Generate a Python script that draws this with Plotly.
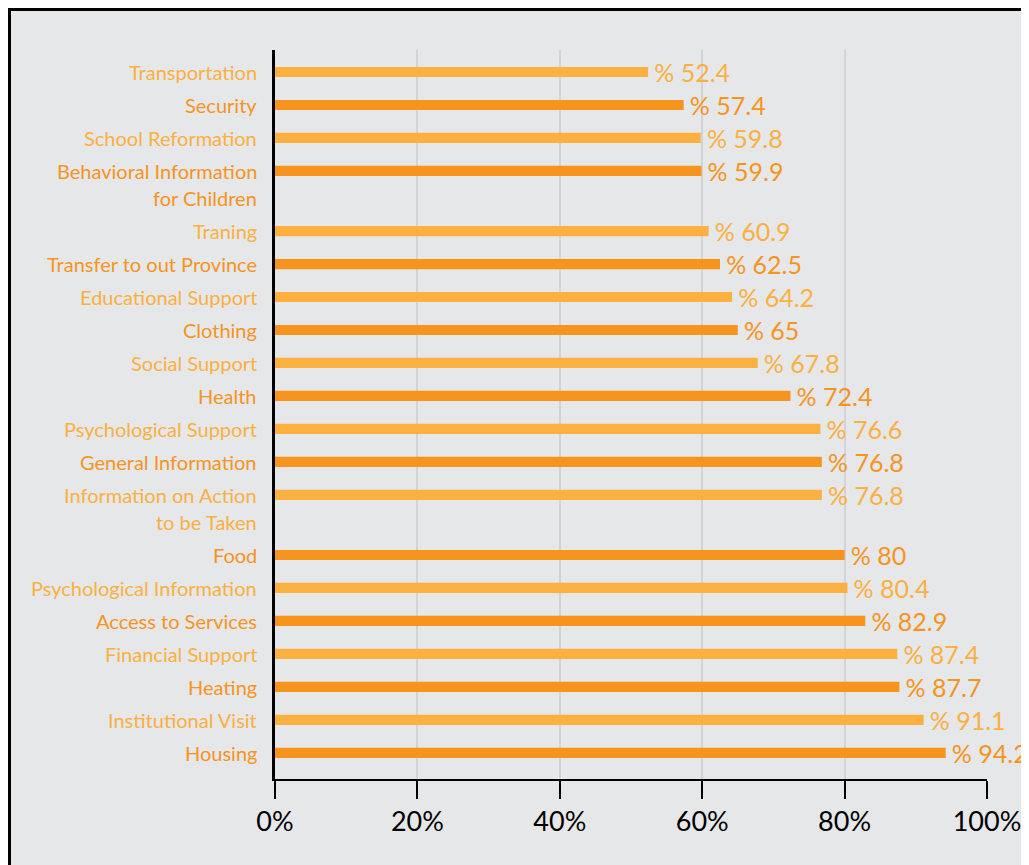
import plotly.graph_objects as go

categories = [
    "Transportation", "Security", "School Reformation",
    "Behavioral Information\nfor Children", "Traning", "Transfer to out Province",
    "Educational Support", "Clothing", "Social Support", "Health",
    "Psychological Support", "General Information",
    "Information on Action\nto be Taken", "Food", "Psychological Information",
    "Access to Services", "Financial Support", "Heating", "Institutional Visit",
    "Housing",
]
values = [52.4, 57.4, 59.8, 59.9, 60.9, 62.5, 64.2, 65, 67.8, 72.4,
          76.6, 76.8, 76.8, 80, 80.4, 82.9, 87.4, 87.7, 91.1, 94.2]
tick_vals = [0, 20, 40, 60, 80, 100]
tick_text = ["0%", "20%", "40%", "60%", "80%", "100%"]

LIGHT = "#FBB040"
DARK = "#F7941D"
colors = [LIGHT if i % 2 == 0 else DARK for i in range(len(categories))]

# slot positions: two-line labels take extra vertical room
positions = []
p = 0.0
for i, c in enumerate(categories):
    if i > 0:
        prev_lines = categories[i - 1].count("\n") + 1
        p += 1.0 if prev_lines == 1 else 1.82
    positions.append(p)

FONT = "Lato"

fig = go.Figure()
fig.add_trace(go.Bar(
    x=values, y=positions, orientation="h",
    marker=dict(color=colors, line=dict(width=0)),
    width=0.31,
    text=["\u2009% " + (str(v) if v % 1 else str(int(v))) for v in values],
    textposition="outside",
    textfont=dict(family=FONT, size=25, color=colors),
    constraintext="none",
    cliponaxis=False,
    hoverinfo="skip",
))

annotations = []
for pos, c, col in zip(positions, categories, colors):
    for j, line in enumerate(c.split("\n")):
        annotations.append(dict(
            x=0, xref="paper", y=pos, yref="y", text=line,
            xanchor="right", yanchor="middle", xshift=-16, yshift=-27 * j,
            showarrow=False, font=dict(family=FONT, size=20, color=col),
        ))

L, T = 267, 42
fig.update_layout(
    width=1029, height=865,
    margin=dict(l=L, r=50, t=T, b=94),
    paper_bgcolor="#E6E7E8",
    plot_bgcolor="rgba(0,0,0,0)",
    showlegend=False,
    annotations=annotations,
    shapes=[dict(
        type="rect", xref="paper", yref="paper",
        x0=-(L - 1.5) / 712, x1=1.3, y0=-0.3, y1=1 + (T - 1.5) / 729,
        fillcolor="rgba(0,0,0,0)", line=dict(color="black", width=3), layer="below",
    )],
    xaxis=dict(
        range=[0, 100], tickvals=tick_vals, ticktext=tick_text,
        showgrid=True, gridcolor="#D1D3D4", gridwidth=2,
        showline=True, linecolor="black", linewidth=2,
        ticks="outside", ticklen=18, tickwidth=2, tickcolor="black",
        tickfont=dict(family=FONT, size=27, color="black"),
        zeroline=False, fixedrange=True,
    ),
    yaxis=dict(
        range=[positions[-1] + 0.79, -0.667],
        showticklabels=False, showgrid=False, zeroline=False,
        showline=True, linecolor="black", linewidth=3,
        ticks="",
    ),
)

fig.write_html("out.html")
